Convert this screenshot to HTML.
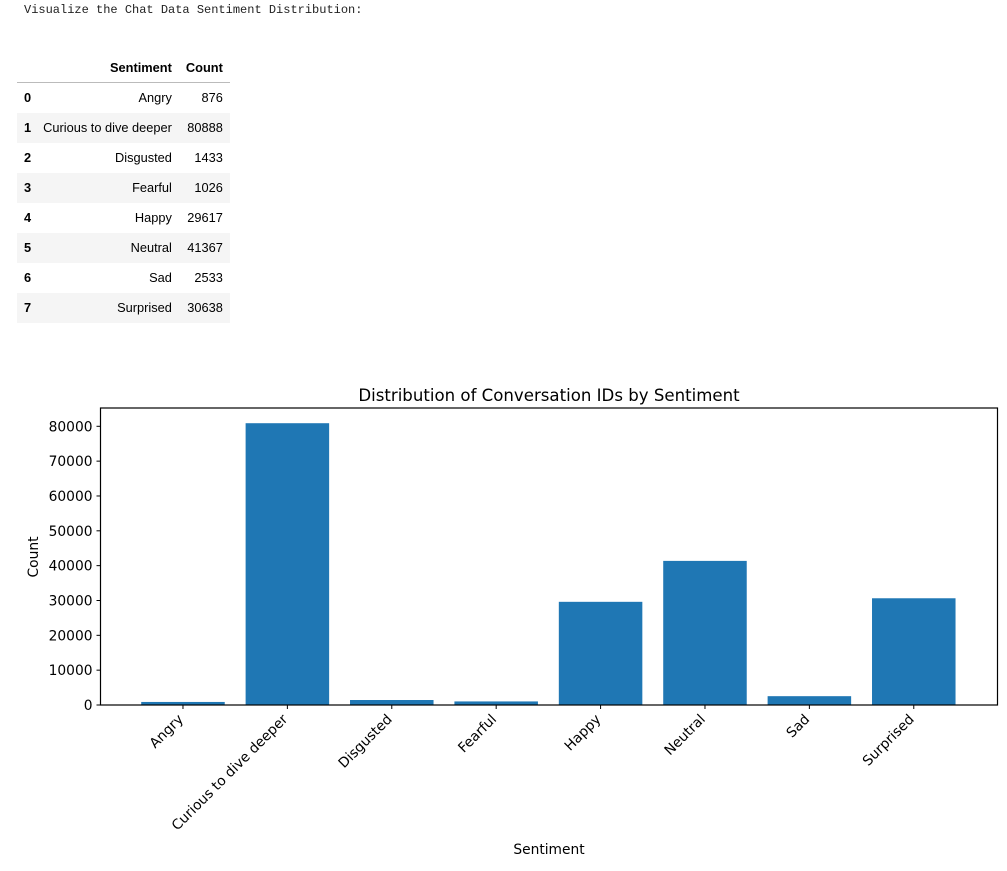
<!DOCTYPE html>
<html><head><meta charset="utf-8"><style>
body{margin:0;width:1007px;height:871px;background:#fff;overflow:hidden;position:relative;font-family:"DejaVu Sans","Liberation Sans",sans-serif}
.hdr{position:absolute;left:24px;top:3px;font-family:"Liberation Mono","DejaVu Sans Mono",monospace;font-size:12px;color:#222}
table{position:absolute;left:17px;top:53px;border-collapse:collapse;font-family:"Liberation Sans",sans-serif;font-size:12.8px;color:#000}
th,td{padding:0 7px;height:30px;line-height:30px;text-align:right;box-sizing:border-box}
thead th{height:29px;line-height:29px;border-bottom:1px solid #bbb}
tbody th{text-align:left;padding-left:7px;padding-right:5px}
tbody tr:nth-child(even){background:#f5f5f5}
svg{position:absolute;left:0;top:0}
</style></head><body>
<div class="hdr">Visualize the Chat Data Sentiment Distribution:</div>
<table>
<thead><tr><th></th><th>Sentiment</th><th>Count</th></tr></thead>
<tbody>
<tr><th>0</th><td>Angry</td><td>876</td></tr>
<tr><th>1</th><td>Curious to dive deeper</td><td>80888</td></tr>
<tr><th>2</th><td>Disgusted</td><td>1433</td></tr>
<tr><th>3</th><td>Fearful</td><td>1026</td></tr>
<tr><th>4</th><td>Happy</td><td>29617</td></tr>
<tr><th>5</th><td>Neutral</td><td>41367</td></tr>
<tr><th>6</th><td>Sad</td><td>2533</td></tr>
<tr><th>7</th><td>Surprised</td><td>30638</td></tr>
</tbody></table>
<svg id="chart" width="1007" height="871"></svg>
<script>
const categories=["Angry","Curious to dive deeper","Disgusted","Fearful","Happy","Neutral","Sad","Surprised"];
const counts=[876,80888,1433,1026,29617,41367,2533,30638];
const yTicks=[0,10000,20000,30000,40000,50000,60000,70000,80000];
const L=100.5,R=997.5,T=408,B=705;
const unit=104.4,x0=L+0.79*unit;
const xs=i=>x0+i*unit;
const ys=v=>B-v*(B-426.3)/80000;
const svg=document.getElementById('chart');
const NS='http://www.w3.org/2000/svg';
function mk(t,a,txt){const e=document.createElementNS(NS,t);for(const k in a)e.setAttribute(k,a[k]);if(txt!=null)e.textContent=txt;svg.appendChild(e);return e;}
categories.forEach((c,i)=>{
 const v=counts[i];
 const r=mk('rect',{x:xs(i)-0.4*unit,y:ys(v),width:0.8*unit,height:B-ys(v),fill:'#1f77b4'});
 
 
 const tk=mk('line',{x1:xs(i),x2:xs(i),y1:B,y2:B+4,stroke:'#000','stroke-width':1});
 
 
 const ax=xs(i)+1,ay=B+15;
 const lb=mk('text',{x:ax,y:ay,'text-anchor':'end','font-size':13.8,fill:'#000',transform:`rotate(-45 ${ax} ${ay})`},c);
 
 
});
yTicks.forEach(v=>{
 const tk=mk('line',{x1:L-4,x2:L,y1:ys(v),y2:ys(v),stroke:'#000','stroke-width':1});
 
 
 const lb=mk('text',{x:L-8,y:ys(v)+5,'text-anchor':'end','font-size':13.8,fill:'#000'},String(v));
 
 
});
const fr=mk('rect',{x:L,y:T,width:R-L,height:B-T,fill:'none',stroke:'#000','stroke-width':1.2});


const ti=mk('text',{x:(L+R)/2,y:401,'text-anchor':'middle','font-size':16.6,fill:'#000'},'Distribution of Conversation IDs by Sentiment');


const xl=mk('text',{x:(L+R)/2,y:854,'text-anchor':'middle','font-size':13.8,fill:'#000'},'Sentiment');


const yl=mk('text',{x:38,y:557,'text-anchor':'middle','font-size':13.8,fill:'#000',transform:'rotate(-90 38 557)'},'Count');


</script>
</body></html>
